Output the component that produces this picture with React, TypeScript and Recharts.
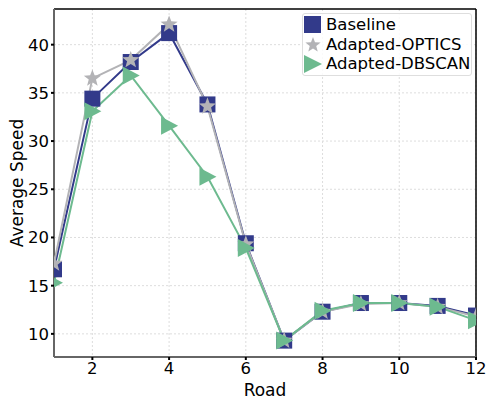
import React from "react";
import {
  LineChart,
  Line,
  XAxis,
  YAxis,
  CartesianGrid,
  ReferenceLine,
  usePlotArea,
} from "recharts";

const roads = [1, 2, 3, 4, 5, 6, 7, 8, 9, 10, 11, 12];
const baseline = [16.7, 34.4, 38.2, 41.2, 33.8, 19.4, 9.3, 12.3, 13.2, 13.2, 12.9, 11.9];
const optics = [17.3, 36.5, 38.4, 42.1, 33.6, 19.3, 9.3, 12.3, 13.1, 13.2, 12.8, 11.8];
const dbscan = [15.3, 33.1, 36.8, 31.6, 26.3, 18.9, 9.3, 12.4, 13.2, 13.2, 12.8, 11.4];
const xTicks = [2, 4, 6, 8, 10, 12];
const yTicks = [10, 15, 20, 25, 30, 35, 40];

const BLUE = "#323a8a";
const GRAY = "#b3b3b6";
const GREEN = "#6dba8f";
const FONT = "DejaVu Sans";

const data = roads.map((r, i) => ({
  road: r,
  baseline: baseline[i],
  optics: optics[i],
  dbscan: dbscan[i],
}));

function starPath(cx: number, cy: number, R: number, r: number) {
  let d = "";
  for (let i = 0; i < 10; i++) {
    const rad = i % 2 === 0 ? R : r;
    const a = -Math.PI / 2 + (i * Math.PI) / 5;
    d += (i === 0 ? "M" : "L") + (cx + rad * Math.cos(a)) + "," + (cy + rad * Math.sin(a));
  }
  return d + "Z";
}

// markers get clipped at the axes like matplotlib does
const PlotClip = () => {
  const area = usePlotArea();
  if (!area) return null;
  return (
    <defs>
      <clipPath id="plot-clip">
        <rect x={area.x} y={area.y} width={area.width} height={area.height} />
      </clipPath>
    </defs>
  );
};

const Square = (props: any) => {
  const { cx, cy } = props;
  if (cx == null || cy == null) return null;
  return (
    <rect x={cx - 8} y={cy - 8} width={16} height={16} fill={BLUE} clipPath="url(#plot-clip)" />
  );
};

const Star = (props: any) => {
  const { cx, cy } = props;
  if (cx == null || cy == null) return null;
  return <path d={starPath(cx, cy, 9, 3.8)} fill={GRAY} clipPath="url(#plot-clip)" />;
};

const Tri = (props: any) => {
  const { cx, cy } = props;
  if (cx == null || cy == null) return null;
  return (
    <path
      d={`M${cx + 9},${cy} L${cx - 8},${cy - 9} L${cx - 8},${cy + 9} Z`}
      fill={GREEN}
      clipPath="url(#plot-clip)"
    />
  );
};

const LegendBox = () => (
  <div
    style={{
      position: "absolute",
      left: 302,
      top: 13,
      width: 170,
      boxSizing: "border-box",
      border: "1px solid #dedede",
      borderRadius: 3,
      background: "rgba(255,255,255,0.85)",
      padding: "1px 0 1px 1px",
      fontFamily: FONT,
      fontSize: 16.5,
      lineHeight: "19.5px",
      color: "#000",
    }}
  >
    {[
      { label: "Baseline", icon: <rect x={0} y={1} width={17} height={17} fill={BLUE} /> },
      { label: "Adapted-OPTICS", icon: <path d={starPath(9, 11, 8, 3.4)} fill={GRAY} /> },
      { label: "Adapted-DBSCAN", icon: <path d="M18,10 L0,1 L0,19 Z" fill={GREEN} /> },
    ].map((it) => (
      <div key={it.label} style={{ display: "flex", alignItems: "center", height: 19.5 }}>
        <svg width={19} height={20} style={{ marginRight: 3 }}>
          {it.icon}
        </svg>
        <span>{it.label}</span>
      </div>
    ))}
  </div>
);

export default function App() {
  return (
    <div style={{ position: "absolute", left: 0, top: 0, background: "#fff" }}>
      <LineChart
        width={487}
        height={401}
        data={data}
        margin={{ top: 9, right: 11, left: 0, bottom: 0 }}
      >
        <PlotClip />
        <CartesianGrid
          stroke="#dddddd"
          strokeDasharray="2 2"
          verticalValues={xTicks}
          horizontalValues={yTicks}
        />
        <XAxis
          dataKey="road"
          type="number"
          domain={[1, 12]}
          ticks={xTicks}
          height={44}
          tickSize={3}
          tickLine={{ stroke: "#000", strokeWidth: 2 }}
          axisLine={{ stroke: "#666", strokeWidth: 2 }}
          tick={{ fill: "#000", fontSize: 16.5, fontFamily: FONT }}
          tickMargin={2}
          label={{
            value: "Road",
            position: "insideBottom",
            offset: 5,
            fill: "#000",
            fontSize: 17,
            fontFamily: FONT,
          }}
        />
        <YAxis
          type="number"
          domain={[7.6, 43.7]}
          ticks={yTicks}
          width={54}
          allowDataOverflow
          tickSize={3}
          tickLine={{ stroke: "#000", strokeWidth: 2 }}
          axisLine={{ stroke: "#666", strokeWidth: 2 }}
          tick={{ fill: "#000", fontSize: 16.5, fontFamily: FONT }}
          tickMargin={2}
          label={{
            value: "Average Speed",
            angle: -90,
            position: "insideLeft",
            offset: 17,
            style: { textAnchor: "middle" },
            fill: "#000",
            fontSize: 17,
            fontFamily: FONT,
          }}
        />
        <ReferenceLine y={43.7} stroke="#000" strokeWidth={1.5} />
        <ReferenceLine x={12} stroke="#000" strokeWidth={1.5} />
        <Line
          dataKey="baseline"
          stroke={BLUE}
          strokeWidth={2}
          dot={<Square />}
          activeDot={false}
          isAnimationActive={false}
        />
        <Line
          dataKey="optics"
          stroke={GRAY}
          strokeWidth={2}
          dot={<Star />}
          activeDot={false}
          isAnimationActive={false}
        />
        <Line
          dataKey="dbscan"
          stroke={GREEN}
          strokeWidth={2}
          dot={<Tri />}
          activeDot={false}
          isAnimationActive={false}
        />
      </LineChart>
      <LegendBox />
    </div>
  );
}
